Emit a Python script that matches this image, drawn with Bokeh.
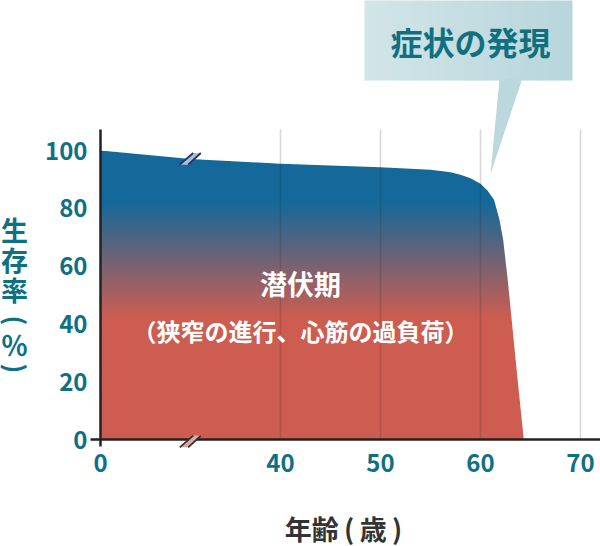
import numpy as np
from bokeh.plotting import figure
from bokeh.models import Range1d, FixedTicker
from bokeh.core.properties import value
from bokeh.embed import file_html
from bokeh.resources import INLINE

# 年齢(歳) ごとの生存率(%)
ages = [0, 20, 40, 45, 50, 55, 57, 58, 59, 60, 60.7, 61.35, 61.9, 62.27, 62.5, 62.73, 63.1,
        63.7, 64.33]
survival = [100, 97.1, 95.4, 94.8, 94.2, 93.3, 92.5, 91.6, 90.4, 88.5, 86.2, 83.0, 76.0,
            69.0, 62.0, 55.0, 42.0, 21.0, 0]
x_ticks = [0, 40, 50, 60, 70]
y_ticks = [0, 20, 40, 60, 80, 100]
break_age = 20

FONT = "Noto Sans CJK JP"
TEAL = "#0e7085"

# frame = whole canvas 600 x 546 px
XS = 10.0
YS = 2.89
X0, X1 = -10, 50
Y0, Y1 = -(546 - 439) / YS, 439 / YS


def to_axis(a):
    # 0〜40歳の区間は省略して詰める
    a = np.asarray(a, dtype=float)
    return np.where(a < 40, a * 18 / 40, a - 22)


def rgba_image(cols):
    cols = np.asarray(cols, dtype=np.uint8)
    img = np.empty(cols.shape[:2], dtype=np.uint32)
    view = img.view(dtype=np.uint8).reshape(cols.shape[:2] + (4,))
    view[..., :3] = cols
    view[..., 3] = 255
    return img


p = figure(width=600, height=546, x_range=Range1d(X0, X1), y_range=Range1d(Y0, Y1),
           output_backend="svg", toolbar_location=None,
           min_border_left=0, min_border_right=0, min_border_top=0, min_border_bottom=0)
p.outline_line_color = None
p.grid.visible = False

xd = to_axis(ages)
x_end = float(xd[-1])
y_top = 107.3

# グラデーション (下: 赤 → 上: 青)
n = 256
yy = np.linspace(0, 100, n)
t = np.clip((yy - 42) / (82 - 42), 0, 1)[:, None]
blue = np.array([20, 104, 154])
red = np.array([205, 93, 80])
grad = (red * (1 - t) + blue * t).round()
p.image_rgba(image=[rgba_image(grad[:, None, :])], x=0, y=0, dw=x_end, dh=100)

# 曲線より上を白で隠す
mask_x = list(xd) + [x_end + 0.6, x_end + 0.6, 0]
mask_y = list(survival) + [0, 101, 101]
p.patch(mask_x, mask_y, fill_color="white", line_color=None)

# grid
gx = to_axis(x_ticks[1:])
p.segment(x0=gx, y0=0, x1=gx, y1=y_top, line_color="#28281a", line_alpha=0.18, line_width=1.6)

# axis lines
p.segment(x0=[0, -1], y0=[-7 / YS, 0], x1=[0, X1], y1=[y_top, 0],
          line_color="#222222", line_width=2.5)


# 省略記号 //
def break_mark(cx, cy, fill, line):
    l1 = [(-10.7, -5.8), (2.7, 5.9)]
    l2 = [(-2.3, -5.8), (10.3, 5.9)]
    px = [cx + dx / XS for dx, _ in l1 + l2[::-1]]
    py = [cy + dy / YS for _, dy in l1 + l2[::-1]]
    p.patch(px, py, fill_color=fill, line_color=None)
    for seg in (l1, l2):
        p.line([cx + dx / XS for dx, _ in seg], [cy + dy / YS for _, dy in seg],
               line_color=line, line_width=1.8)


bx = float(to_axis(break_age))
break_mark(bx, float(np.interp(break_age, ages, survival)), "#a5c1d8", "#2a2c6c")
break_mark(bx, -0.7, "#dcaaa2", "#333333")

# 吹き出し
bl, br, bb = 26.4, 47.2, 124.2
cols = np.linspace([210, 229, 233], [183, 214, 219], 100).round()
p.image_rgba(image=[rgba_image(cols[None, :, :])], x=bl, y=bb, dw=br - bl, dh=Y1 - bb + 1)
p.patch([39.9, 42.17, 39.0], [bb + 0.5, bb + 0.5, 91.9], fill_color="#bad8dd", line_color=None)
p.text(x=[37.0], y=[138.0], text=["症状の発現"], text_font=value(FONT), text_font_style="bold",
       text_font_size="32px", text_color="#11707f", text_align="center", text_baseline="middle")

# 面内の文字
p.text(x=[20, 20], y=[54, 37.7], text=["潜伏期", "（狭窄の進行、心筋の過負荷）"],
       text_font=value(FONT), text_font_style="bold", text_font_size=["27px", "24px"],
       text_color="white", text_align="center", text_baseline="middle")

# 縦書きの軸ラベル (括弧は回転)
ylab = ["生", "存", "率", "(", "％", ")"]
ylab_px = [14, 14, 14, 16, 14, 16]
ylab_py = [229, 258.5, 288.5, 320, 344, 368]
ylab_angle = [0, 0, 0, -np.pi / 2, 0, -np.pi / 2]
ylab_size = ["27px", "27px", "27px", "26px", "27px", "26px"]
p.text(x=[(v - 100) / XS for v in ylab_px], y=[(439 - v) / YS for v in ylab_py], text=ylab,
       angle=ylab_angle, text_font=value(FONT), text_font_style="bold", text_font_size=ylab_size,
       text_color=TEAL, text_align="center", text_baseline="middle")

# x軸ラベル
p.text(x=[(343 - 100) / XS], y=[(439 - 528) / YS], text=["年齢\u2009(\u2009歳\u2009)"],
       text_font=value(FONT), text_font_style="bold", text_font_size="27px",
       text_color="#333333", text_align="center", text_baseline="middle")

# axes (軸は枠内の 0 の位置に固定)
p.xaxis.ticker = FixedTicker(ticks=[int(v) for v in to_axis(x_ticks)])
p.xaxis.major_label_overrides = {int(v): str(a) for v, a in zip(to_axis(x_ticks), x_ticks)}
p.yaxis.ticker = FixedTicker(ticks=y_ticks)
p.xaxis.fixed_location = 0
p.yaxis.fixed_location = 0
for ax in (p.xaxis, p.yaxis):
    ax.axis_line_color = None
    ax.major_tick_line_color = None
    ax.minor_tick_line_color = None
    ax.major_tick_in = 0
    ax.major_tick_out = 0
    ax.major_label_text_font = FONT
    ax.major_label_text_font_style = "bold"
    ax.major_label_text_font_size = "24px"
    ax.major_label_text_color = TEAL
p.yaxis.major_label_standoff = 13
p.xaxis.major_label_standoff = 14

open("out.html", "w").write(file_html(p, INLINE))
